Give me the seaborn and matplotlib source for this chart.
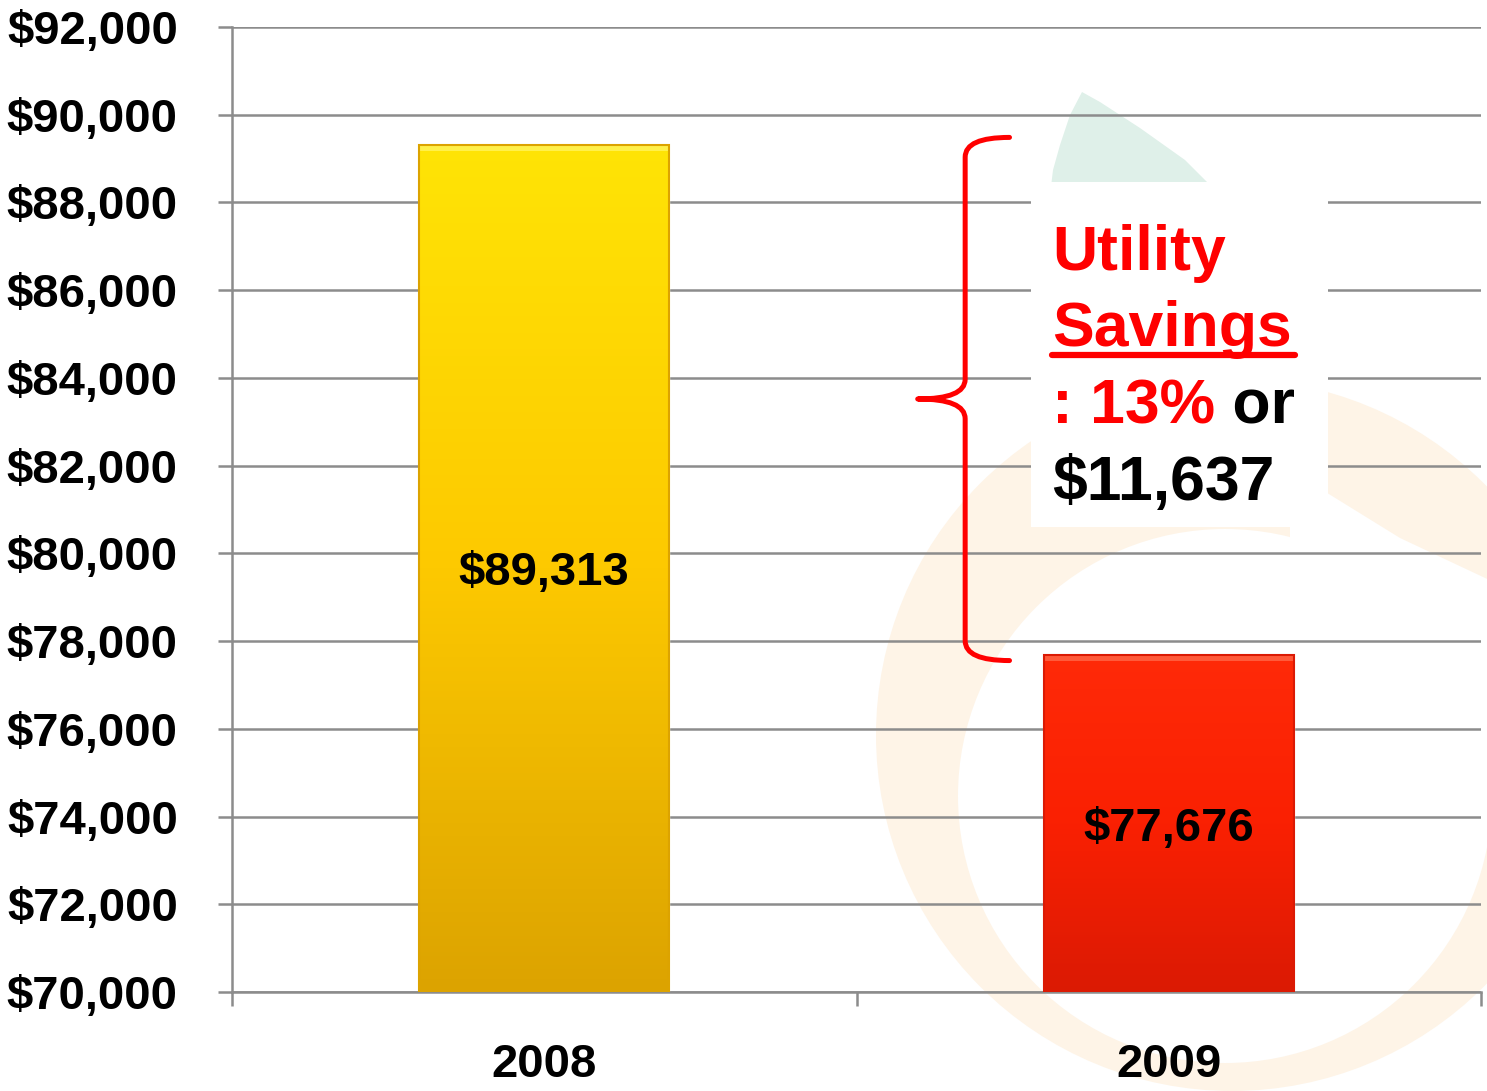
import numpy as np
import pandas as pd
import matplotlib
matplotlib.use('Agg')
import matplotlib.pyplot as plt
import seaborn as sns
from matplotlib.path import Path
from matplotlib.patches import PathPatch, Rectangle, Circle, Polygon
from matplotlib.colors import LinearSegmentedColormap
from matplotlib.lines import Line2D

# data
years = ['2008', '2009']
costs = [89313, 77676]
y_ticks = list(range(70000, 92001, 2000))
# top / middle / bottom shades of each bar, plus a highlight for the bevel
bar_shades = [('#FFE406', '#FDC900', '#DCA300'),
              ('#FF2A08', '#FA2002', '#DB1A04')]
bar_highlight = ['#FFF04A', '#FF5A3A']

W, H = 1487, 1091
GRID = '#8C8C8C'
RED = '#FF0000'
WASH = '#FEF4E7'


def fx(px):
    return px / W


def fy(py):
    return 1 - py / H


sns.set_theme(style='white')
plt.rcParams['font.family'] = ['Liberation Sans', 'DejaVu Sans']
plt.rcParams['font.weight'] = 'bold'

fig = plt.figure(figsize=(W / 100, H / 100), dpi=100)
fig.patch.set_facecolor('white')

# faint logo watermark behind the chart (pixel coords)
bg = fig.add_axes([0, 0, 1, 1], zorder=-1)
bg.set_xlim(0, W)
bg.set_ylim(H, 0)
bg.axis('off')
bg.add_patch(Circle((1232, 735), 356, color=WASH, lw=0))
bg.add_patch(Circle((1225, 796), 267, color='white', lw=0))
bg.add_patch(Polygon([(1290, 470), (1400, 538), (1500, 585), (1500, 770), (1290, 620)],
                     closed=True, color='white', lw=0))
bg.add_patch(Polygon([(1082, 92), (1070, 115), (1060, 145), (1053, 170), (1050, 195),
                      (1220, 195), (1185, 160), (1140, 128), (1100, 102)],
                     closed=True, color='#DFF0E9', lw=0))

ax = fig.add_axes([fx(232), fy(992), fx(1481) - fx(232), fy(27) - fy(992)])
ax.patch.set_alpha(0)

df = pd.DataFrame({'year': years, 'cost': costs})
sns.barplot(data=df, x='year', y='cost', hue='year',
            palette=[s[1] for s in bar_shades], width=0.4, saturation=1,
            legend=False, ax=ax)

ymin, ymax = y_ticks[0], y_ticks[-1]
px_to_val = (ymax - ymin) / 965

# gradient fill over each bar
grad = np.linspace(0, 1, 256).reshape(-1, 1)
for p, shades, hi in zip(ax.patches, bar_shades, bar_highlight):
    cmap = LinearSegmentedColormap.from_list('bar', list(shades))
    x0, w, top = p.get_x(), p.get_width(), p.get_height()
    ax.imshow(grad, extent=[x0, x0 + w, ymin, top], origin='upper',
              cmap=cmap, aspect='auto', zorder=3)
    ax.add_patch(Rectangle((x0, top - 6 * px_to_val), w, 6 * px_to_val,
                           facecolor=hi, edgecolor='none', zorder=4))
    ax.add_patch(Rectangle((x0, ymin), w, top - ymin, fill=False,
                           edgecolor=shades[2], lw=1.5, zorder=4))

for i, v in enumerate(costs):
    ax.text(i, (ymin + v) / 2, f'${v:,}', ha='center', va='center_baseline',
            fontsize=34, weight='bold', color='black', zorder=5)

ax.set_xlim(-0.5, 1.5)
ax.set_ylim(ymin, ymax)
ax.set_yticks(y_ticks)
ax.set_yticklabels([f'${v:,}' for v in y_ticks])
ax.set_xticks([0, 1])
ax.set_xticklabels(years)
ax.set_xticks([-0.5, 0.5, 1.5], minor=True)
ax.set_xlabel('')
ax.set_ylabel('')

ax.set_axisbelow(True)
ax.yaxis.grid(True, color=GRID, lw=1.8)
ax.xaxis.grid(False)
for side in ['top', 'right']:
    ax.spines[side].set_visible(False)
for side in ['left', 'bottom']:
    ax.spines[side].set_color(GRID)
    ax.spines[side].set_linewidth(1.8)

ax.tick_params(axis='y', left=True, length=10, width=1.8, color=GRID,
               pad=29, labelsize=34, labelcolor='black')
ax.tick_params(axis='x', which='major', bottom=True, length=0, pad=37,
               labelsize=34, labelcolor='black')
ax.tick_params(axis='x', which='minor', bottom=True, length=10, width=1.8,
               color=GRID)

# curly brace spanning the two bar heights
top_y = max(costs) + 170
bot_y = min(costs) - 120
mid_y = (top_y + bot_y) / 2
c = 450
x_end, x_sp, x_tip = 0.745, 0.674, 0.598
verts = [(x_end, top_y), (x_sp, top_y), (x_sp, top_y - c),
         (x_sp, mid_y + c),
         (x_sp, mid_y), (x_tip, mid_y),
         (x_sp, mid_y), (x_sp, mid_y - c),
         (x_sp, bot_y + c),
         (x_sp, bot_y), (x_end, bot_y)]
codes = [Path.MOVETO, Path.CURVE3, Path.CURVE3,
         Path.LINETO,
         Path.CURVE3, Path.CURVE3,
         Path.CURVE3, Path.CURVE3,
         Path.LINETO,
         Path.CURVE3, Path.CURVE3]
ax.add_patch(PathPatch(Path(verts, codes), fill=False, edgecolor=RED, lw=3.6,
                       capstyle='round', joinstyle='round', zorder=6))

# savings call-out
saving = costs[0] - costs[1]
pct = saving / costs[0]
fig.patches.append(Rectangle((fx(1031), fy(527)), fx(1328) - fx(1031), fy(182) - fy(527),
                             transform=fig.transFigure, facecolor='white',
                             edgecolor='none', zorder=1))
tx = fx(1052)
fs = 45
t1 = fig.text(tx, fy(270), 'Utility', color=RED, fontsize=fs, weight='bold', va='baseline')
t2 = fig.text(tx, fy(346), 'Savings', color=RED, fontsize=fs, weight='bold', va='baseline')
t3 = fig.text(tx, fy(424), f': {pct:.0%}', color=RED, fontsize=fs, weight='bold', va='baseline')
t4 = fig.text(tx, fy(500), f'${saving:,}', color='black', fontsize=fs, weight='bold', va='baseline')

r = fig.canvas.get_renderer()
bb3 = t3.get_window_extent(renderer=r)
fig.text(bb3.x1 / fig.bbox.width, fy(424), ' or', color='black', fontsize=fs,
         weight='bold', va='baseline')
bb2 = t2.get_window_extent(renderer=r)
fig.add_artist(Line2D([bb2.x0 / fig.bbox.width, bb2.x1 / fig.bbox.width + 0.002],
                      [fy(355), fy(355)], transform=fig.transFigure,
                      color=RED, lw=4.5, zorder=3))

plt.savefig('out.png', dpi=100)
plt.close()
